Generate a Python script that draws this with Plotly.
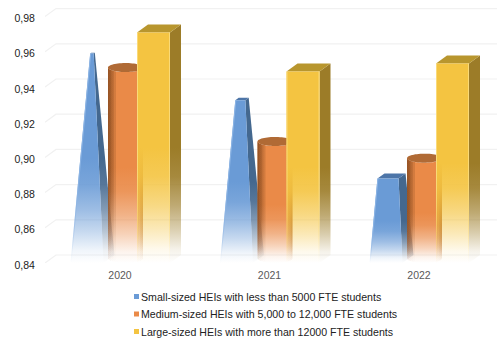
import numpy as np
import plotly.graph_objects as go

years = ["2020", "2021", "2022"]
small = [0.959, 0.9325, 0.888]
medium = [0.9485, 0.9065, 0.897]
large = [0.971, 0.9488, 0.9534]
series_names = [
    "Small-sized HEIs with less than 5000 FTE students",
    "Medium-sized HEIs with 5,000 to 12,000 FTE students",
    "Large-sized HEIs with more than 12000 FTE students",
]
y_ticks = [0.84, 0.86, 0.88, 0.90, 0.92, 0.94, 0.96, 0.98]
y_labels = ["0,84", "0,86", "0,88", "0,90", "0,92", "0,94", "0,96", "0,98"]

W, H = 497, 338
L, T, B = 45, 8, 263
PX = 1 / 149.5          # x units per pixel
PY = 0.02 / 35.2        # y units per pixel
BASE = 0.84
DX, DY = 11 * PX, 8 * PY
BAR_W = 33 * PX
APEX = BASE + 0.133     # height at which the pyramid closes

x0 = (L - 120) * PX
x1 = (W - 120) * PX
y1 = BASE + (B - T) * PY

fig = go.Figure()


def fade(rgb, top, strength=1.0):
    r, g, b = rgb
    stops = [(0, 0.0), (0.12, 0.10), (0.3, 0.38), (0.5, 0.65), (0.75, 0.9), (1, 1.0)]
    return dict(
        type="vertical",
        start=BASE,
        stop=BASE + (top - BASE) * 0.5,
        colorscale=[[p, f"rgba({r},{g},{b},{a * strength:.3f})"] for p, a in stops],
    )


def poly(xs, ys, rgb=None, top=None, solid=None, strength=1.0):
    kw = dict(x=list(xs) + [xs[0]], y=list(ys) + [ys[0]], mode="none", fill="toself",
              hoverinfo="skip", showlegend=False)
    if solid:
        kw["fillcolor"] = solid
    else:
        kw["fillgradient"] = fade(rgb, top, strength)
    fig.add_trace(go.Scatter(**kw))


# background grid: back wall lines and left wall skew
for t in y_ticks:
    fig.add_trace(go.Scatter(
        x=[x0, x0 + DX, x1], y=[t, t + DY, t + DY], mode="lines",
        line=dict(color="#f1f1f1", width=1.2), hoverinfo="skip", showlegend=False))

BLUE_F, BLUE_S, BLUE_T = (106, 155, 214), (68, 104, 143), "#4d75a8"
ORANGE_F, ORANGE_D, ORANGE_T = (234, 138, 72), (100, 50, 15), "#b06a35"
YELLOW_F, YELLOW_S, YELLOW_T = (244, 196, 65), (156, 124, 40), "#b8962e"
YELLOW_E, BLUE_E = (250, 218, 120), (140, 180, 228)

# small: truncated pyramids
for i, v in enumerate(small):
    cx = i - 33 * PX
    t = (v - BASE) / (APEX - BASE)
    hw = BAR_W / 2 * (1 - t)
    c = cx + DX / 2 * t
    d = 1 - t
    fl, fr = c - hw, c + hw
    bl, br = cx - BAR_W / 2, cx + BAR_W / 2
    poly([br, fr, fr + DX * d, br + DX], [BASE, v, v + DY * d, BASE + DY], BLUE_S, v)
    poly([fl, fr, fr + DX * d, fl + DX * d], [v, v, v + DY * d, v + DY * d], solid=BLUE_T)
    poly([bl, br, fr, fl], [BASE, BASE, v, v], BLUE_F, v)
    poly([bl, bl + PX, fl + PX, fl], [BASE, BASE, v, v], BLUE_E, v)

# medium: cylinders
RX = 17.5 * PX
RY = 4.5 * PY


def arc(cx, yc, xa, xb, n=24):
    xs = np.linspace(xa, xb, n)
    ys = yc - RY * np.sqrt(np.clip(1 - ((xs - cx) / RX) ** 2, 0, 1))
    return xs, ys


for i, v in enumerate(medium):
    cx = i + 5.5 * PX
    yb, yt = BASE + RY, v + RY

    def strip(xa, xb, rgb, strength=1.0):
        xs1, ys1 = arc(cx, yb, xa, xb)
        xs2, ys2 = arc(cx, yt, xb, xa)
        poly(list(xs1) + list(xs2), list(ys1) + list(ys2), rgb, v, strength=strength)

    strip(cx - RX, cx + RX, ORANGE_F)
    for w in [1.5, 3, 4.5, 6, 8]:
        strip(cx - RX, cx - RX + w * PX, ORANGE_D, 0.17)
    for w in [1.5, 3, 5]:
        strip(cx + RX - w * PX, cx + RX, ORANGE_D, 0.17)
    th = np.linspace(0, 2 * np.pi, 60)
    poly(cx + RX * np.cos(th), yt + RY * np.sin(th), solid=ORANGE_T)

# large: boxes
for i, v in enumerate(large):
    l = i + 17 * PX
    r = l + BAR_W
    poly([r, r + DX, r + DX, r], [BASE, BASE + DY, v + DY, v], YELLOW_S, v)
    poly([l, r, r + DX, l + DX], [v, v, v + DY, v + DY], solid=YELLOW_T)
    poly([l, r, r, l], [BASE, BASE, v, v], YELLOW_F, v)
    poly([l, l + PX, l + PX, l], [BASE, BASE, v, v], YELLOW_E, v)
    poly([r - PX, r, r, r - PX], [BASE, BASE, v, v], YELLOW_E, v)


def px_x(p):
    return (p - L) / (W - L)


def px_y(p):
    return (B - p) / (B - T)


annotations, shapes = [], []
swatches = ["#6a9bd6", "#ea8a48", "#f4c441"]
for name, col, row in zip(series_names, swatches, [296.5, 314, 331.5]):
    annotations.append(dict(text=name, xref="paper", yref="paper", x=px_x(141), y=px_y(row),
                            xanchor="left", yanchor="middle", showarrow=False, borderpad=0, borderwidth=0,
                            font=dict(size=10.6, color="#222222", family="Liberation Sans")))
    shapes.append(dict(type="rect", xref="paper", yref="paper", x0=px_x(134), x1=px_x(139),
                       y0=px_y(row - 2.5), y1=px_y(row + 2.5), fillcolor=col, line_width=0))

fig.update_layout(
    width=W, height=H, margin=dict(l=L, r=0, t=T, b=H - B), autosize=False,
    paper_bgcolor="white", plot_bgcolor="white", showlegend=False,
    annotations=annotations, shapes=shapes,
    xaxis=dict(range=[x0, x1], tickmode="array", tickvals=[0, 1, 2], ticktext=years,
               showgrid=False, zeroline=False, showline=False, ticks="outside", ticklen=2,
               tickcolor="rgba(0,0,0,0)",
               tickfont=dict(size=10.5, color="#595959", family="Liberation Sans")),
    yaxis=dict(range=[BASE, y1], tickmode="array", tickvals=y_ticks, ticktext=y_labels,
               showgrid=False, zeroline=False, showline=False, ticks="outside", ticklen=7,
               ticklabelshift=2, tickcolor="rgba(0,0,0,0)",
               tickfont=dict(size=10.5, color="#222222", family="Liberation Sans")),
)
fig.write_html("out.html", config={"displayModeBar": False},
               post_script="document.body.style.margin='0';")
